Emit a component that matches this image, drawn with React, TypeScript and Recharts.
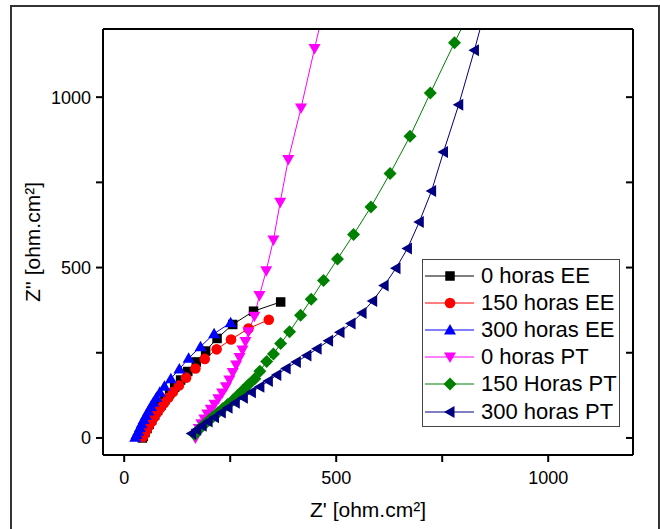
import { LineChart, Line, XAxis, YAxis, Legend } from "recharts";

const xTicks = [0, 250, 500, 750, 1000];
const yTicks = [0, 250, 500, 750, 1000];

const horas0EE: [number, number][] = [
  [43, 0], [45, 5], [49, 16], [54, 28], [59, 40], [65, 53], [72, 67], [79, 81], [87, 96], [96, 112],
  [107, 130], [119, 149], [133, 170], [150, 195], [170, 223], [192, 255], [219, 292], [256, 333],
  [305, 372], [369, 399],
];
const horas150EE: [number, number][] = [
  [44, 3], [48, 12], [53, 23], [58, 35], [64, 47], [70, 60], [77, 73], [85, 87], [94, 102], [104, 118],
  [115, 135], [129, 154], [146, 177], [168, 204], [190, 232], [218, 260], [252, 289], [293, 321], [341, 347],
];
const horas300EE: [number, number][] = [
  [26, 2], [29, 10], [33, 20], [37, 31], [41, 42], [46, 54], [51, 66], [57, 79], [63, 92], [69, 105],
  [76, 119], [84, 134], [95, 152], [110, 174], [130, 202], [152, 234], [180, 268], [212, 306], [251, 338],
];
const horas0PT: [number, number][] = [
  [168, 0], [171, 14], [176, 28], [182, 42], [189, 56], [196, 70], [204, 84], [213, 99], [222, 115],
  [231, 132], [240, 150], [248, 170], [256, 192], [264, 214], [272, 236], [279, 258], [286, 283],
  [293, 312], [307, 357], [319, 418], [335, 491], [352, 581], [368, 692], [387, 817], [417, 968],
  [449, 1143], [482, 1320],
];
const horas150PT: [number, number][] = [
  [166, 10], [173, 21], [181, 31], [190, 41], [200, 52], [210, 63], [221, 74], [232, 86], [244, 98],
  [256, 111], [268, 125], [280, 140], [293, 156], [308, 174], [320, 196], [336, 224], [352, 246],
  [369, 277], [390, 312], [416, 360], [441, 407], [470, 462], [503, 525], [541, 597], [582, 678],
  [627, 776], [674, 885], [722, 1012], [779, 1160], [840, 1315],
];
const horas300PT: [number, number][] = [
  [159, 13], [171, 24], [184, 36], [198, 48], [213, 61], [229, 75], [245, 89], [262, 103], [281, 118],
  [300, 134], [320, 150], [340, 167], [360, 185], [382, 204], [406, 223], [431, 242], [455, 262],
  [482, 285], [509, 310], [535, 336], [561, 367], [586, 402], [613, 447], [641, 498], [668, 556],
  [696, 634], [725, 725], [753, 839], [789, 978], [826, 1138], [848, 1240],
];

const series = [
  { name: "0 horas EE", color: "#000000", shape: "square", points: horas0EE },
  { name: "150 horas EE", color: "#ff0000", shape: "circle", points: horas150EE },
  { name: "300 horas EE", color: "#0000ff", shape: "up", points: horas300EE },
  { name: "0 horas PT", color: "#ff00ff", shape: "down", points: horas0PT },
  { name: "150 Horas PT", color: "#008000", shape: "diamond", points: horas150PT },
  { name: "300 horas PT", color: "#000080", shape: "left", points: horas300PT },
];

const FONT = "'Liberation Sans', Arial, sans-serif";

const Marker = ({ cx, cy, shape, color }: { cx: number; cy: number; shape: string; color: string }) => {
  if (cx == null || cy == null) return null;
  const r = 6;
  if (shape === "square") return <rect x={cx - 4.75} y={cy - 4.75} width={9.5} height={9.5} fill={color} />;
  if (shape === "circle") return <circle cx={cx} cy={cy} r={5.3} fill={color} />;
  let pts = "";
  if (shape === "up") pts = `${cx},${cy - r} ${cx - r},${cy + r - 1.5} ${cx + r},${cy + r - 1.5}`;
  if (shape === "down") pts = `${cx},${cy + r} ${cx - r},${cy - r + 1.5} ${cx + r},${cy - r + 1.5}`;
  if (shape === "left") pts = `${cx - r},${cy} ${cx + r - 1.5},${cy - r} ${cx + r - 1.5},${cy + r}`;
  if (shape === "diamond") pts = `${cx},${cy - 6.5} ${cx + 6.5},${cy} ${cx},${cy + 6.5} ${cx - 6.5},${cy}`;
  return <polygon points={pts} fill={color} />;
};

const LegendBox = () => (
  <div
    style={{
      width: 198,
      height: 168,
      border: "1px solid #444",
      background: "#fff",
      boxSizing: "border-box",
      paddingTop: 2,
      fontFamily: FONT,
      fontSize: 22,
      color: "#000",
    }}
  >
    {series.map((s) => (
      <div key={s.name} style={{ display: "flex", alignItems: "center", height: 27.2 }}>
        <svg width={58} height={20} style={{ flex: "none" }}>
          <line x1={2} x2={51} y1={10} y2={10} stroke={s.color} strokeWidth={1} />
          <Marker cx={27} cy={10} shape={s.shape} color={s.color} />
        </svg>
        <span style={{ whiteSpace: "nowrap", lineHeight: "24px" }}>{s.name}</span>
      </div>
    ))}
  </div>
);

const XTitle = () => (
  <text x={368} y={517} textAnchor="middle" fontSize={21} fontFamily={FONT} fill="#000">
    Z' [ohm.cm²]
  </text>
);

const YTitle = () => (
  <text x={40} y={242} textAnchor="middle" fontSize={21} fontFamily={FONT} fill="#000" transform="rotate(-90 40 242)">
    Z'' [ohm.cm²]
  </text>
);

const axisStroke = { stroke: "#000", strokeWidth: 2 };
const tickStyle = { fontSize: 18, fontFamily: FONT, fill: "#000" };
const labelEvery500 = (v: number) => (v % 500 === 0 ? String(v) : "");

export default function App() {
  return (
    <div style={{ position: "absolute", left: 0, top: 0, width: 660, height: 529, overflow: "hidden", background: "#fff" }}>
      <div
        style={{
          position: "absolute",
          left: 10,
          top: 5,
          width: 650,
          height: 560,
          border: "2px solid #333",
          borderBottom: "none",
          boxSizing: "border-box",
        }}
      />
      <div style={{ position: "absolute", left: 0, top: 0 }}>
        <LineChart width={660} height={529} margin={{ top: 29, right: 27, bottom: 0, left: 0 }}>
          <XAxis
            type="number"
            dataKey="x"
            domain={[-50, 1200]}
            allowDataOverflow
            ticks={xTicks}
            tickFormatter={labelEvery500}
            height={74}
            tickSize={7}
            tickMargin={9}
            axisLine={axisStroke}
            tickLine={axisStroke}
            tick={tickStyle}
            label={<XTitle />}
          />
          <XAxis
            xAxisId="top"
            orientation="top"
            type="number"
            domain={[-50, 1200]}
            allowDataOverflow
            ticks={xTicks}
            tickFormatter={() => ""}
            mirror
            tickSize={7}
            axisLine={axisStroke}
            tickLine={axisStroke}
          />
          <YAxis
            type="number"
            dataKey="y"
            domain={[-50, 1200]}
            allowDataOverflow
            ticks={yTicks}
            tickFormatter={labelEvery500}
            width={103}
            tickSize={7}
            tickMargin={5}
            axisLine={axisStroke}
            tickLine={axisStroke}
            tick={tickStyle}
            label={<YTitle />}
          />
          <YAxis
            yAxisId="right"
            orientation="right"
            type="number"
            domain={[-50, 1200]}
            allowDataOverflow
            ticks={yTicks}
            tickFormatter={() => ""}
            mirror
            tickSize={7}
            axisLine={axisStroke}
            tickLine={axisStroke}
          />
          {series.map((s) => (
            <Line
              key={s.name}
              name={s.name}
              data={s.points.map(([x, y]) => ({ x, y }))}
              dataKey="y"
              type="linear"
              stroke={s.color}
              strokeWidth={1}
              isAnimationActive={false}
              dot={(p: any) => (
                <Marker key={`${s.name}-${p.index}`} cx={p.cx} cy={p.cy} shape={s.shape} color={s.color} />
              )}
              activeDot={false}
            />
          ))}
          <Legend
            layout="vertical"
            align="center"
            verticalAlign="middle"
            content={<LegendBox />}
            wrapperStyle={{ position: "absolute", left: 422, top: 259, width: 198, height: 168 }}
          />
        </LineChart>
      </div>
    </div>
  );
}
